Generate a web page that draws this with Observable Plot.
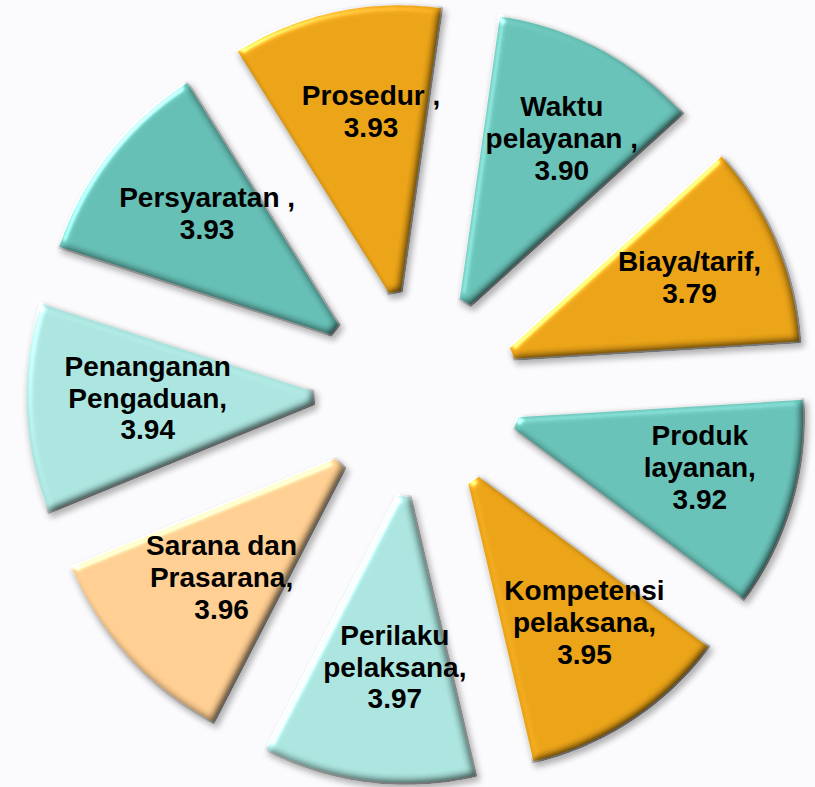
<!DOCTYPE html>
<html>
<head>
<meta charset="utf-8">
<script src="https://cdn.jsdelivr.net/npm/d3@7"></script>
<script src="https://cdn.jsdelivr.net/npm/@observablehq/plot@0.6"></script>
<style>
  html, body { margin: 0; padding: 0; background: #fbfafc; overflow: hidden; }
  #chart { width: 815px; height: 787px; overflow: hidden; }
</style>
</head>
<body>
<div id="chart"></div>
<script>
// ---- data ----
const categories = ["Persyaratan", "Prosedur", "Waktu pelayanan", "Biaya/tarif", "Produk layanan",
  "Kompetensi pelaksana", "Perilaku pelaksana", "Sarana dan Prasarana", "Penanganan Pengaduan"];
const values = [3.93, 3.93, 3.90, 3.79, 3.92, 3.95, 3.97, 3.96, 3.94];
const labelNames = ["Persyaratan ,", "Prosedur ,", "Waktu\npelayanan ,", "Biaya/tarif,", "Produk\nlayanan,",
  "Kompetensi\npelaksana,", "Perilaku\npelaksana,", "Sarana dan\nPrasarana,", "Penanganan\nPengaduan,"];
const colors = ["#63bcb2", "#e8a115", "#66bfb5", "#e8a115", "#66bfb5", "#e8a115", "#a9e2dc", "#fbcb8f", "#a9e2dc"];

// ---- layout ----
const W = 815, H = 787;
const cx = 416, cy = 393;            // pie centre in pixels
const startAngle = -72.1;            // degrees, clockwise from 12 o'clock
const radius = 307, explode = 84, innerCut = 20;
const labelRadius = 282, labelShiftX = 13, labelShiftY = 7;

const total = d3.sum(values);
const rad = (a) => a * Math.PI / 180;
let acc = startAngle;
const slices = categories.map((name, i) => {
  const a0 = acc, a1 = acc + values[i] / total * 360;
  acc = a1;
  return {name, value: values[i], a0, a1, mid: (a0 + a1) / 2, label: labelNames[i] + "\n" + values[i].toFixed(2)};
});

const pts = [];
for (const s of slices) {
  const ox = explode * Math.sin(rad(s.mid)), oy = explode * Math.cos(rad(s.mid));
  const ring = [];
  ring.push([ox + innerCut * Math.sin(rad(s.a0)), oy + innerCut * Math.cos(rad(s.a0))]);
  const n = Math.ceil(s.a1 - s.a0);
  for (let k = 0; k <= n; k++) {
    const a = s.a0 + (s.a1 - s.a0) * k / n;
    ring.push([ox + radius * Math.sin(rad(a)), oy + radius * Math.cos(rad(a))]);
  }
  ring.push([ox + innerCut * Math.sin(rad(s.a1)), oy + innerCut * Math.cos(rad(s.a1))]);
  ring.push(ring[0]);
  for (const [x, y] of ring) pts.push({name: s.name, x, y});
}

const labels = slices.map(s => ({
  label: s.label,
  x: labelShiftX + labelRadius * Math.sin(rad(s.mid)),
  y: labelShiftY + labelRadius * Math.cos(rad(s.mid))
}));

const plot = Plot.plot({
  width: W, height: H,
  margin: 0,
  style: {background: "#fbfafc"},
  x: {domain: [-cx, W - cx], axis: null},
  y: {domain: [cy - H, cy], axis: null},
  color: {domain: categories, range: colors},
  marks: [
    Plot.line(pts, {x: "x", y: "y", z: "name", fill: "name", stroke: "#e4e4e4", strokeWidth: 2, curve: "linear"}),
    Plot.text(labels, {x: "x", y: "y", text: "label", fontSize: 28, fontWeight: "bold",
      fontFamily: "Liberation Sans, Arial, sans-serif", lineHeight: 1.14, fill: "#000", lineAnchor: "middle"})
  ]
});

// bevel + shadow filter
const ns = "http://www.w3.org/2000/svg";
const defs = document.createElementNS(ns, "defs");
defs.innerHTML = `
<filter id="bevel" x="-15%" y="-15%" width="130%" height="130%" color-interpolation-filters="sRGB">
  <feGaussianBlur in="SourceAlpha" stdDeviation="4" result="blur"/>
  <feSpecularLighting in="blur" surfaceScale="4" specularConstant="0.8" specularExponent="35" lighting-color="#ffffff" result="spec">
    <feDistantLight azimuth="225" elevation="40"/>
  </feSpecularLighting>
  <feComposite in="spec" in2="SourceAlpha" operator="in" result="specIn"/>
  <feDiffuseLighting in="blur" surfaceScale="4" diffuseConstant="1.22" lighting-color="#ffffff" result="diff">
    <feDistantLight azimuth="225" elevation="55"/>
  </feDiffuseLighting>
  <feComposite in="diff" in2="SourceAlpha" operator="in" result="diffIn"/>
  <feBlend in="SourceGraphic" in2="diffIn" mode="multiply" result="shaded"/>
  <feComposite in="shaded" in2="specIn" operator="arithmetic" k1="0" k2="1" k3="0.6" k4="0" result="lit"/>
  <feComposite in="lit" in2="SourceAlpha" operator="in" result="litIn"/>
  <feGaussianBlur in="SourceAlpha" stdDeviation="3" result="sblur"/>
  <feOffset in="sblur" dx="3" dy="4" result="soff"/>
  <feComponentTransfer in="soff" result="shadow"><feFuncA type="linear" slope="0.3"/></feComponentTransfer>
  <feMerge><feMergeNode in="shadow"/><feMergeNode in="litIn"/></feMerge>
</filter>`;
plot.insertBefore(defs, plot.firstChild);
plot.querySelectorAll('g[aria-label="line"] path').forEach(p => p.setAttribute("filter", "url(#bevel)"));

document.getElementById("chart").appendChild(plot);
</script>
</body>
</html>
